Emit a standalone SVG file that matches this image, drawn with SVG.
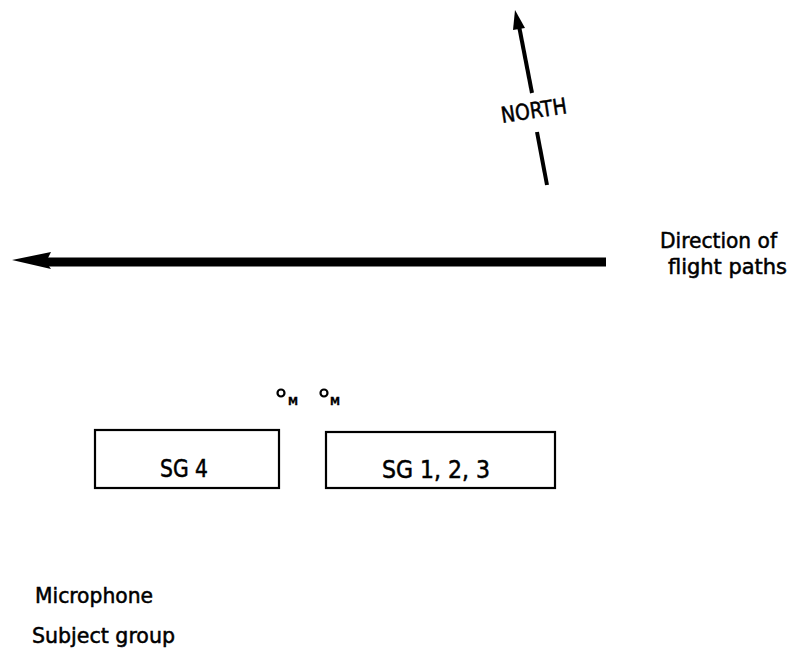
<svg xmlns="http://www.w3.org/2000/svg" width="791" height="654" viewBox="0 0 791 654">
<style>
text{font-family:"DejaVu Sans Condensed","DejaVu Sans",sans-serif;font-size:22px;fill:#000;stroke:#000;stroke-width:0.5}
.sg{font-size:25px}
.box{fill:none;stroke:#000;stroke-width:2.2}
.sub{font-size:11px;font-weight:bold;stroke-width:0.3}
.mic{fill:none;stroke:#000;stroke-width:2.2}
</style>
<rect width="791" height="654" fill="#fff"/>
<g id="connectors">
<g id="north-arrow">
<line x1="519" y1="26" x2="532" y2="93" stroke="#000" stroke-width="4"/>
<line x1="537" y1="132" x2="547" y2="185" stroke="#000" stroke-width="4"/>
<polygon points="515,10 525,28 513,30" fill="#000"/>
</g>
<g id="flight-arrow">
<line x1="46" y1="262" x2="606" y2="262" stroke="#000" stroke-width="9"/>
<polygon points="12,260 51,252 46,262 51,269" fill="#000"/>
</g>
</g>
<text x="535" y="118" text-anchor="middle" textLength="66" lengthAdjust="spacingAndGlyphs" transform="rotate(-8.6 535 118)">NORTH</text>
<g id="direction-label">
<text x="660" y="248" textLength="117" lengthAdjust="spacingAndGlyphs">Direction of</text>
<text x="668" y="274" textLength="119" lengthAdjust="spacingAndGlyphs">flight paths</text>
</g>
<g id="mic1">
<circle class="mic" cx="281" cy="393" r="3.5"/>
<text class="sub" x="288" y="405" textLength="10" lengthAdjust="spacingAndGlyphs">M</text>
</g>
<g id="mic2">
<circle class="mic" cx="324" cy="393" r="3.5"/>
<text class="sub" x="330" y="405" textLength="10" lengthAdjust="spacingAndGlyphs">M</text>
</g>
<g id="sg4">
<rect class="box" x="95" y="430" width="184" height="58"/>
<text class="sg" x="160" y="477" textLength="48" lengthAdjust="spacingAndGlyphs">SG 4</text>
</g>
<g id="sg123">
<rect class="box" x="326" y="432" width="229" height="56"/>
<text class="sg" x="382" y="478" textLength="108" lengthAdjust="spacingAndGlyphs">SG 1, 2, 3</text>
</g>
<g id="legend">
<text x="35" y="603" textLength="118" lengthAdjust="spacingAndGlyphs">Microphone</text>
<text x="32" y="643" textLength="143" lengthAdjust="spacingAndGlyphs">Subject group</text>
</g>
</svg>
